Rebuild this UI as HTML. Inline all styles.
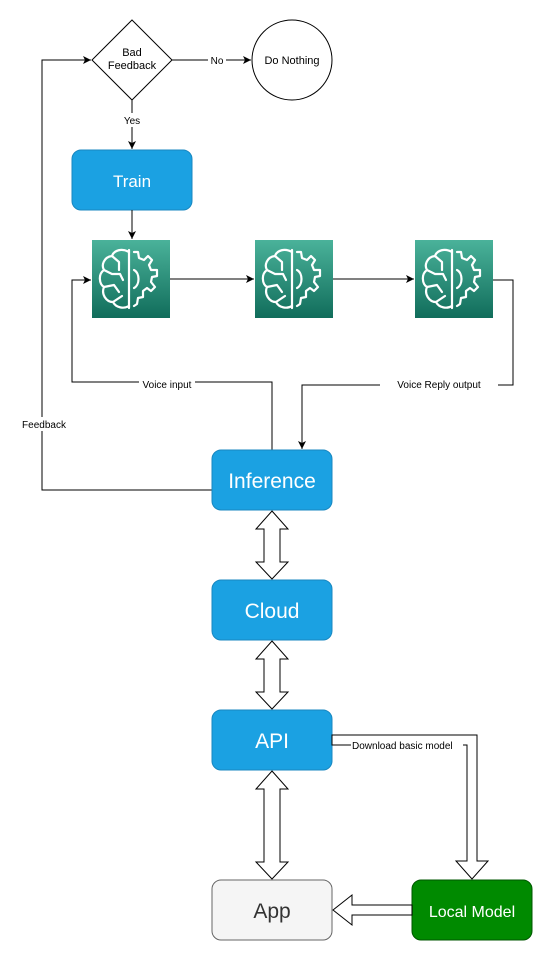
<!DOCTYPE html>
<html><head><meta charset="utf-8"><style>
body{margin:0;background:#fff;}
svg{display:block;font-family:"Liberation Sans",Arial,sans-serif;}
</style></head><body>
<svg width="553" height="961" viewBox="0 0 553 961" xmlns="http://www.w3.org/2000/svg">
<defs>
<linearGradient id="g" x1="0" y1="0" x2="0" y2="1"><stop offset="0" stop-color="#4ab29a"/><stop offset="1" stop-color="#116d5b"/></linearGradient>
<marker id="a" markerWidth="10" markerHeight="10" refX="9" refY="5" orient="auto" markerUnits="userSpaceOnUse"><path d="M1,1 L9,5 L1,9 L3,5 Z" fill="#000"/></marker>
<g id="brain">
<rect x="0" y="0" width="78" height="78" fill="url(#g)"/>
<g fill="none" stroke="#fff" stroke-width="2.2" stroke-linejoin="round" stroke-linecap="round">
<path d="M37,10 L37,68"/>
<path d="M37,12 C30,8 22,10 20,16 C12,17 9,25 12,30 C6,34 7,44 12,47 C9,54 14,62 21,62 C24,68 32,69 37,66"/>
<path d="M20,16 L27,22 L27,30 M12,30 L20,34 L28,34 L31,40 M12,47 L22,45 L27,52 M21,62 L30,56"/>
<path d="M42,12 L46,12 L47,18 L52,20 L56,16 L60,20 L57,25 L59,30 L65,30 L65,36 L60,37 L59,42 L63,47 L59,51 L55,48 L51,51 L51,57 L46,58 L45,64 L42,66"/>
<path d="M42,30 C48,33 48,45 42,48"/>
</g></g>
</defs>
<!-- diamond -->
<polygon points="132,20 172,60 132,100 92,60" fill="#fff" stroke="#000" stroke-width="1"/>
<text x="132" y="56" font-size="11" text-anchor="middle">Bad</text>
<text x="132" y="69" font-size="11" text-anchor="middle">Feedback</text>
<circle cx="292" cy="60" r="40" fill="#fff" stroke="#000"/>
<text x="292" y="64" font-size="11" text-anchor="middle">Do Nothing</text>
<line x1="172" y1="60" x2="251" y2="60" stroke="#000" marker-end="url(#a)"/>
<rect x="208" y="53" width="18" height="14" fill="#fff"/>
<text x="217" y="64" font-size="10" text-anchor="middle">No</text>
<line x1="132" y1="100" x2="132" y2="149" stroke="#000" marker-end="url(#a)"/>
<rect x="121" y="113" width="22" height="14" fill="#fff"/>
<text x="132" y="124" font-size="10" text-anchor="middle">Yes</text>
<!-- train -->
<rect x="72" y="150" width="120" height="60" rx="9" fill="#1ba1e2" stroke="#1887c0"/>
<text x="132" y="187" font-size="17" fill="#fff" text-anchor="middle">Train</text>
<line x1="132" y1="210" x2="132" y2="239" stroke="#000" marker-end="url(#a)"/>
<!-- icons -->
<use href="#brain" x="92" y="240"/>
<use href="#brain" x="255" y="240"/>
<use href="#brain" x="415" y="240"/>
<line x1="170" y1="279" x2="254" y2="279" stroke="#000" marker-end="url(#a)"/>
<line x1="333" y1="279" x2="414" y2="279" stroke="#000" marker-end="url(#a)"/>
<!-- voice input -->
<polyline points="272,450 272,382 72,382 72,280 91,280" fill="none" stroke="#000" marker-end="url(#a)"/>
<rect x="139" y="378" width="56" height="13" fill="#fff"/>
<text x="167" y="388" font-size="10" text-anchor="middle">Voice input</text>
<!-- voice reply -->
<polyline points="493,280 513,280 513,385 302,385 302,449" fill="none" stroke="#000" marker-end="url(#a)"/>
<rect x="380" y="378" width="118" height="13" fill="#fff"/>
<text x="439" y="388" font-size="10" text-anchor="middle">Voice Reply output</text>
<!-- feedback -->
<polyline points="212,490 42,490 42,60 91,60" fill="none" stroke="#000" marker-end="url(#a)"/>
<rect x="18" y="417" width="52" height="14" fill="#fff"/>
<text x="44" y="428" font-size="10" text-anchor="middle">Feedback</text>
<!-- boxes -->
<rect x="212" y="450" width="120" height="60" rx="9" fill="#1ba1e2" stroke="#1887c0"/>
<text x="272" y="488" font-size="21" fill="#fff" text-anchor="middle">Inference</text>
<rect x="212" y="580" width="120" height="60" rx="9" fill="#1ba1e2" stroke="#1887c0"/>
<text x="272" y="618" font-size="21" fill="#fff" text-anchor="middle">Cloud</text>
<rect x="212" y="710" width="120" height="60" rx="9" fill="#1ba1e2" stroke="#1887c0"/>
<text x="272" y="748" font-size="21" fill="#fff" text-anchor="middle">API</text>
<rect x="212" y="880" width="120" height="60" rx="9" fill="#f5f5f5" stroke="#666"/>
<text x="272" y="918" font-size="21" fill="#333" text-anchor="middle">App</text>
<rect x="412" y="880" width="120" height="60" rx="9" fill="#008a00" stroke="#005700"/>
<text x="472" y="917" font-size="16" fill="#fff" text-anchor="middle">Local Model</text>
<!-- double arrows -->
<g fill="#fff" stroke="#000" stroke-width="1">
<polygon points="272,511 288,529 280,529 280,562 288,562 272,579 256,562 264,562 264,529 256,529"/>
<polygon points="272,641 288,659 280,659 280,692 288,692 272,709 256,692 264,692 264,659 256,659"/>
<polygon points="272,771 288,789 280,789 280,862 288,862 272,879 256,862 264,862 264,789 256,789"/>
<polygon points="332,735 477,735 477,861 488,861 472,879 456,861 467,861 467,745 332,745"/>
<polygon points="412,905 352,905 352,895 333,910 352,925 352,915 412,915"/>
</g>
<rect x="351" y="739" width="112" height="13" fill="#fff"/>
<text x="352" y="749" font-size="10">Download basic model</text>
</svg>
</body></html>
